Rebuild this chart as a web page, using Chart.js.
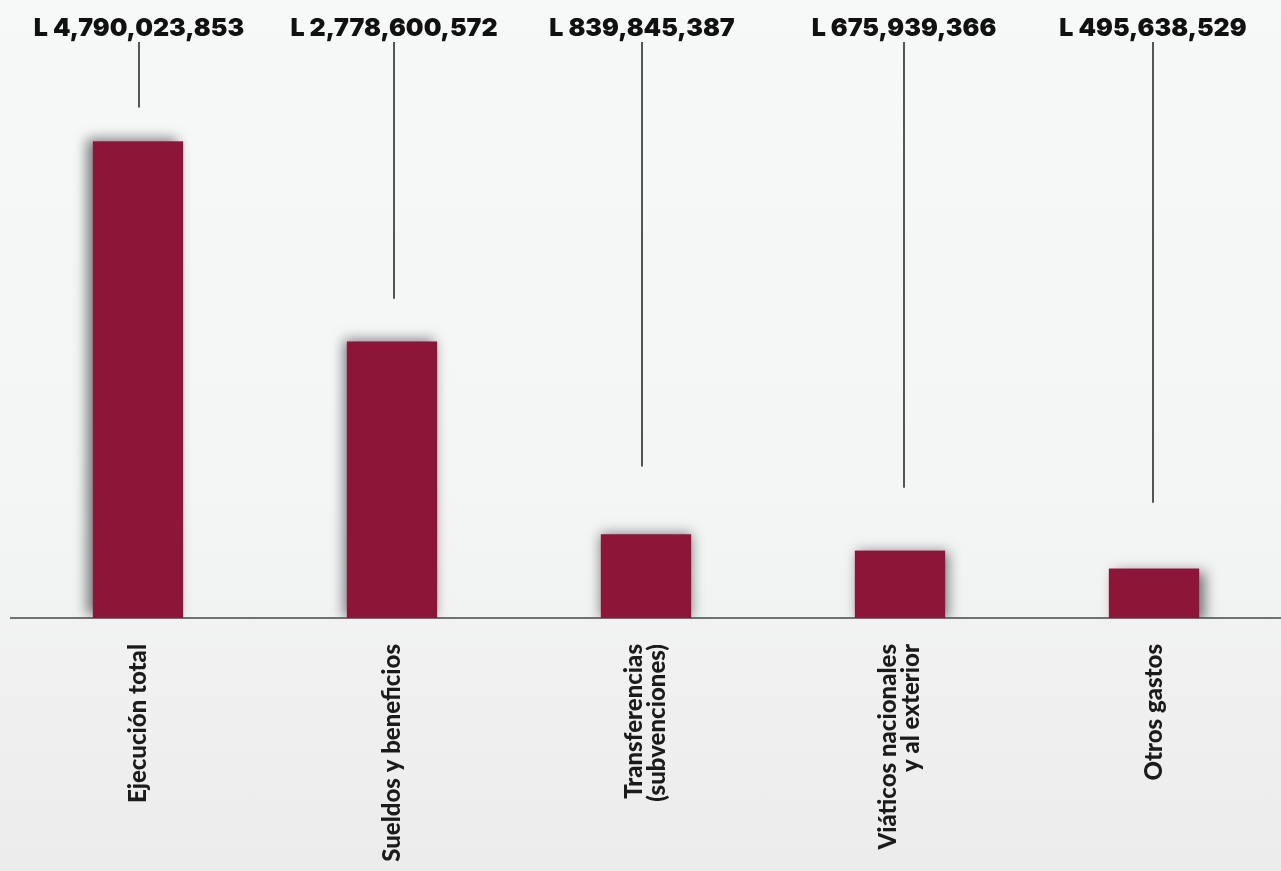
<!DOCTYPE html>
<html lang="es">
<head>
<meta charset="utf-8">
<title>Ejecución presupuestaria</title>
<script src="https://cdn.jsdelivr.net/npm/chart.js@4/dist/chart.umd.min.js"></script>
<style>
  html, body { margin: 0; padding: 0; overflow: hidden; }
  body {
    width: 1281px; height: 871px;
    background: linear-gradient(180deg, #f7f8f8 0%, #f4f5f5 55%, #ebeceb 100%);
  }
  canvas { display: block; }
</style>
</head>
<body>
<canvas id="chart" width="1281" height="871"></canvas>
<script>
// Gasto ejecutado por rubro, en lempiras
const categories = [
  ['Ejecución total'],
  ['Sueldos y beneficios'],
  ['Transferencias', '(subvenciones)'],
  ['Viáticos nacionales', 'y al exterior'],
  ['Otros gastos'],
];
const amounts = [4790023853, 2778600572, 839845387, 675939366, 495638529];

const WINE = '#8d1638';
const AXIS = '#6e7372';
const INK = '#111111';

const fmtLempiras = (v) => 'L ' + v.toLocaleString('en-US');

// soft drop shadow behind each bar, pushed away from the middle of the chart
const barShadow = {
  id: 'barShadow',
  beforeDatasetDraw(chart, args) {
    const { ctx, chartArea } = chart;
    const mid = (chartArea.left + chartArea.right) / 2;
    ctx.save();
    ctx.beginPath();
    ctx.rect(0, 0, chart.width, chartArea.bottom);
    ctx.clip();
    args.meta.data.forEach((bar) => {
      const dx = (bar.x - mid) / 85;
      ctx.shadowColor = 'rgba(70, 78, 78, 0.75)';
      ctx.shadowBlur = 12;
      ctx.shadowOffsetX = dx;
      ctx.shadowOffsetY = dx * 0.5;
      ctx.fillStyle = WINE;
      ctx.fillRect(bar.x - bar.width / 2, bar.y, bar.width, bar.base - bar.y);
    });
    ctx.restore();
  },
};

// amount on top with a thin leader line dropping toward the bar
const valueLeaders = {
  id: 'valueLeaders',
  afterDatasetsDraw(chart, args, opts) {
    const { ctx } = chart;
    const meta = chart.getDatasetMeta(0);
    ctx.save();
    meta.data.forEach((bar, i) => {
      const x = bar.x + (opts.nudge[i] || 0);
      ctx.fillStyle = INK;
      ctx.font = opts.font;
      ctx.textAlign = 'center';
      ctx.textBaseline = 'alphabetic';
      ctx.fillText(fmtLempiras(amounts[i]), x, opts.textY);
      ctx.strokeStyle = INK;
      ctx.lineWidth = 1.4;
      ctx.beginPath();
      ctx.moveTo(x, opts.lineTop);
      ctx.lineTo(x, bar.y - opts.gap[i]);
      ctx.stroke();
    });
    ctx.restore();
  },
};

// vertical category names, read bottom to top, lines centred on the tick
const verticalLabels = {
  id: 'verticalLabels',
  afterDraw(chart, args, opts) {
    const { ctx } = chart;
    const xScale = chart.scales.x;
    const top = chart.chartArea.bottom + opts.padding;
    ctx.save();
    ctx.fillStyle = '#1b1b1b';
    ctx.font = opts.font;
    ctx.textAlign = 'right';
    ctx.textBaseline = 'middle';
    categories.forEach((lines, i) => {
      const x = xScale.getPixelForValue(i);
      ctx.save();
      ctx.translate(x, top);
      ctx.rotate(-Math.PI / 2);
      lines.forEach((line, j) => {
        ctx.fillText(line, 0, (j - (lines.length - 1) / 2) * opts.lineHeight);
      });
      ctx.restore();
    });
    ctx.restore();
  },
};

new Chart(document.getElementById('chart'), {
  type: 'bar',
  data: {
    labels: categories,
    datasets: [{
      data: amounts,
      backgroundColor: WINE,
      borderWidth: 0,
      categoryPercentage: 1,
      barPercentage: 0.355,
    }],
  },
  options: {
    responsive: false,
    devicePixelRatio: 1,
    animation: false,
    layout: { padding: { top: 61, left: 11, right: 0, bottom: 0 } },
    plugins: {
      legend: { display: false },
      tooltip: { enabled: false },
      valueLeaders: {
        font: "900 25px Inter",
        textY: 36,
        lineTop: 42,
        gap: [34, 43, 68, 63, 66],
        nudge: [1, 2, -4, 4, -1],
      },
      verticalLabels: {
        font: "900 24px Lato",
        padding: 26,
        lineHeight: 23,
      },
    },
    scales: {
      x: {
        z: 1,
        grid: { display: false },
        border: { display: true, color: AXIS, width: 2 },
        ticks: { display: false },
        afterFit: (scale) => { scale.height = 253; },
      },
      y: {
        display: false,
        min: 0,
        max: 5.6e9,
      },
    },
  },
  plugins: [barShadow, valueLeaders, verticalLabels],
});
</script>
</body>
</html>
